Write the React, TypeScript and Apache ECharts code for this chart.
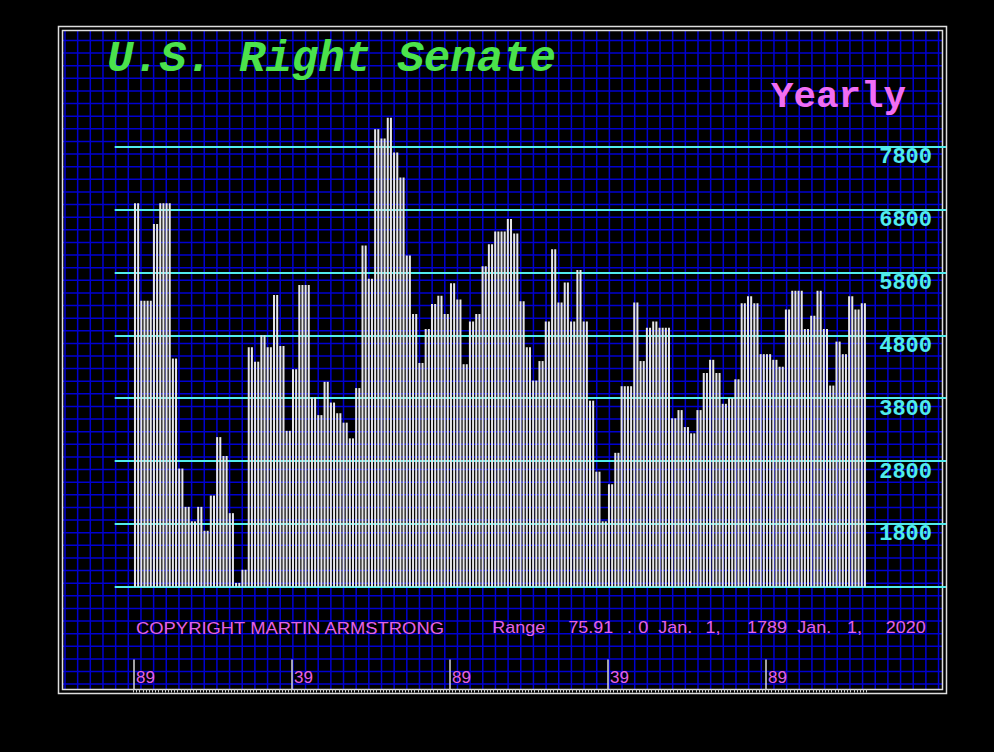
import React, { useEffect, useRef } from "react";
import * as echarts from "echarts";

// ---------- data ----------
const FIRST_YEAR = 1789;
const LAST_YEAR = 2020;
const years: string[] = [];
for (let y = FIRST_YEAR; y <= LAST_YEAR; y++) years.push(String(y));

// yearly values (1789 .. 2020)
const senateValues: number[] = [
  6900, 6900, 5350, 5350, 5350, 5350, 6570, 6570, 6900, 6900,
  6900, 6900, 4430, 4430, 2680, 2680, 2070, 2070, 1840, 1840,
  2070, 2070, 1690, 1690, 2250, 2250, 3180, 3180, 2880, 2880,
  1970, 1970, 860, 860, 1070, 1070, 4610, 4610, 4380, 4380,
  4800, 4800, 4610, 4610, 5440, 5440, 4630, 4630, 3280, 3280,
  4260, 4260, 5600, 5600, 5600, 5600, 3810, 3810, 3530, 3530,
  4060, 4060, 3730, 3730, 3560, 3560, 3410, 3410, 3160, 3160,
  3960, 3960, 6230, 6230, 5700, 5700, 8080, 8080, 7930, 7930,
  8260, 8260, 7710, 7710, 7310, 7310, 6070, 6070, 5140, 5140,
  4360, 4360, 4900, 4900, 5300, 5300, 5430, 5430, 5140, 5140,
  5630, 5630, 5370, 5370, 4340, 4340, 5020, 5020, 5140, 5140,
  5900, 5900, 6250, 6250, 6450, 6450, 6450, 6450, 6650, 6650,
  6420, 6420, 5340, 5340, 4610, 4610, 4080, 4080, 4390, 4390,
  5020, 5020, 6170, 6170, 5320, 5320, 5640, 5640, 5020, 5020,
  5840, 5840, 5020, 5020, 3760, 3760, 2630, 2630, 1840, 1840,
  2430, 2430, 2930, 2930, 3990, 3990, 3990, 3990, 5320, 5320,
  4390, 4390, 4920, 4920, 5020, 5020, 4920, 4920, 4920, 4920,
  3480, 3480, 3610, 3610, 3340, 3340, 3240, 3240, 3610, 3610,
  4200, 4200, 4410, 4410, 4200, 4200, 3710, 3710, 3800, 3800,
  4100, 4100, 5310, 5310, 5420, 5420, 5310, 5310, 4500, 4500,
  4500, 4500, 4410, 4410, 4300, 4300, 5210, 5210, 5510, 5510,
  5510, 5510, 4900, 4900, 5110, 5110, 5510, 5510, 4900, 4900,
  4000, 4000, 4700, 4700, 4500, 4500, 5420, 5420, 5210, 5210,
  5310, 5310,
];

const Y_MIN = 800;
const Y_LINE_MAX = 7800;
const Y_BAR_MAX = 8800;
const Y_STEP = 1000;
const majorTickYears = ["1789", "1839", "1889", "1939", "1989"];

const titleText = "U.S. Right Senate";
const periodText = "Yearly";
const copyrightText = "COPYRIGHT MARTIN ARMSTRONG";
const rangeTexts = ["Range", "75.91", ".", "0", "Jan.", "1,", "1789", "Jan.", "1,", "2020"];

// ---------- layout ----------
const rangeXs = [492.3, 568.3, 627, 638.3, 658.3, 705.5, 747, 797.3, 847, 885.7];
const PINK = "#e462e4";
const CYAN = "#50ecec";
const MONO = '"Liberation Mono", "DejaVu Sans Mono", monospace';
const SANS = '"Liberation Sans", Arial, sans-serif';

function buildGraphics() {
  const els: any[] = [];
  // blue grid
  for (let k = 0; k < 70; k++) {
    const x = 65 + 12.66 * k;
    els.push({
      type: "line", z: -10, silent: true,
      shape: { x1: x, y1: 30.5, x2: x, y2: 689.5 },
      style: { stroke: "#0000d0", lineWidth: 1.5 },
    });
  }
  for (let k = 0; k < 52; k++) {
    const y = 40.5 + 12.62 * k;
    els.push({
      type: "line", z: -10, silent: true,
      shape: { x1: 62.5, y1: y, x2: 942.5, y2: y },
      style: { stroke: "#0000d0", lineWidth: 1.5 },
    });
  }
  // double frame
  els.push({
    type: "rect", z: -5, silent: true,
    shape: { x: 58.5, y: 26.5, width: 888, height: 667 },
    style: { fill: "none", stroke: "#dedede", lineWidth: 1.5 },
  });
  els.push({
    type: "rect", z: -5, silent: true,
    shape: { x: 62.5, y: 30.5, width: 880, height: 659 },
    style: { fill: "none", stroke: "#dedede", lineWidth: 1.5 },
  });
  // texts
  els.push({
    type: "text", z: 100, x: 107, y: 59,
    style: {
      text: titleText, fill: "#4be24b",
      font: `italic bold 44px ${MONO}`, verticalAlign: "middle", align: "left",
    },
  });
  els.push({
    type: "text", z: 100, x: 771, y: 97,
    style: {
      text: periodText, fill: "#f26ef2",
      font: `bold 37.5px ${MONO}`, verticalAlign: "middle", align: "left",
    },
  });
  els.push({
    type: "text", z: 100, x: 136, y: 628, scaleY: 0.9,
    style: {
      text: copyrightText, fill: PINK,
      font: `18.4px ${SANS}`, verticalAlign: "middle", align: "left",
    },
  });
  rangeTexts.forEach((t, i) => {
    els.push({
      type: "text", z: 100, x: rangeXs[i], y: 628, scaleY: 0.9,
      style: {
        text: t, fill: PINK,
        font: `18px ${SANS}`, verticalAlign: "middle", align: "left",
      },
    });
  });
  return els;
}

export default function App() {
  const ref = useRef<HTMLDivElement>(null);

  useEffect(() => {
    document.body.style.margin = "0";
    document.body.style.background = "#000";
    if (!ref.current) return;
    const chart = echarts.init(ref.current, undefined, { renderer: "svg" });

    const isMajor = (index: number) => majorTickYears.includes(years[index]);

    chart.setOption({
      animation: false,
      backgroundColor: "#000",
      graphic: buildGraphics(),
      grid: [
        { left: 114.7, right: 48, top: 146.8, bottom: 165.3 },
        { left: 133.4, right: 127.5, top: 83.9, bottom: 165.3 },
        { left: 133.4, right: 127.5, top: 600, bottom: 62.5 },
        { left: 132.4, right: 128.5, top: 600, bottom: 62.5 },
      ],
      xAxis: [
        { gridIndex: 0, type: "value", min: 0, max: 1, show: false },
        { gridIndex: 1, type: "category", data: years, show: false },
        {
          gridIndex: 2, type: "category", data: years, position: "bottom",
          axisLine: { show: false },
          axisTick: { show: true, interval: 0, length: 3, inside: false, lineStyle: { color: "#cfcfcf", width: 1 } },
          axisLabel: { show: false },
          splitLine: { show: false },
        },
        {
          gridIndex: 3, type: "category", data: years, position: "bottom",
          axisLine: { show: false },
          axisTick: {
            show: true, interval: (i: number) => isMajor(i), inside: true, length: 30,
            alignWithLabel: true,
            lineStyle: { color: "#d8d8d8", width: 1.5 },
          },
          axisLabel: {
            show: true, interval: (i: number) => isMajor(i), inside: true, margin: 4,
            formatter: (v: string) => v.slice(2),
            color: PINK, fontFamily: SANS, fontSize: 17,
            align: "left", verticalAlign: "bottom", padding: [0, 0, 0, 2],
          },
          splitLine: { show: false },
        },
      ],
      yAxis: [
        {
          gridIndex: 0, type: "value", position: "right",
          min: Y_MIN, max: Y_LINE_MAX, interval: Y_STEP,
          axisLine: { show: false }, axisTick: { show: false },
          splitLine: { show: true, lineStyle: { color: CYAN, width: 2 } },
          axisLabel: {
            show: true, inside: true, margin: 14,
            formatter: (v: number) => (v === Y_MIN ? "" : String(v)),
            color: CYAN, fontFamily: MONO, fontSize: 22, fontWeight: "bold",
            align: "right", verticalAlign: "top",
          },
        },
        { gridIndex: 1, type: "value", min: Y_MIN, max: Y_BAR_MAX, show: false, splitLine: { show: false } },
        { gridIndex: 2, type: "value", show: false },
        { gridIndex: 3, type: "value", show: false },
      ],
      series: [
        {
          type: "bar",
          xAxisIndex: 1,
          yAxisIndex: 1,
          data: senateValues,
          barWidth: 2,
          itemStyle: { color: "#e6e6e6" },
          silent: true,
        },
      ],
    });

    return () => chart.dispose();
  }, []);

  return <div ref={ref} style={{ width: 994, height: 752, background: "#000" }} />;
}
